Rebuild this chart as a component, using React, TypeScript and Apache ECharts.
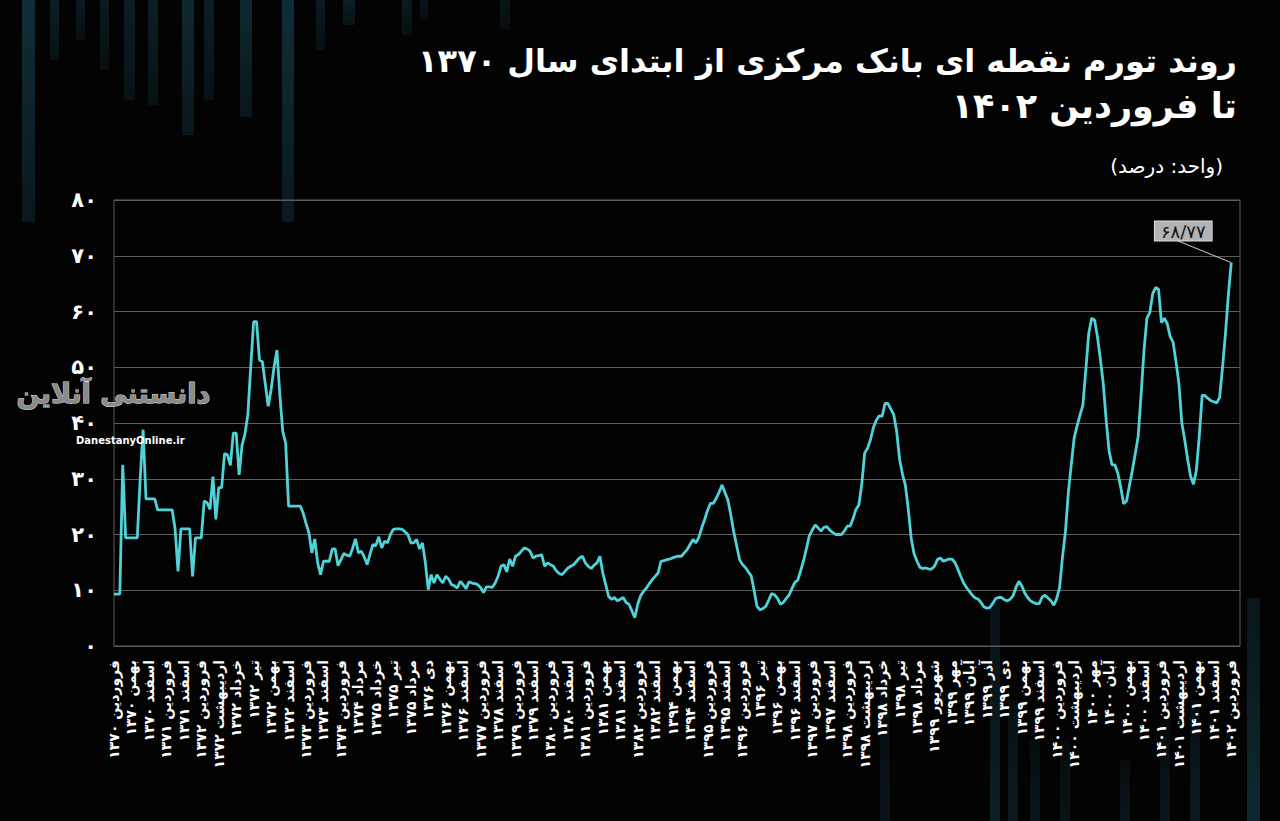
import React, { useEffect, useRef } from "react";
import * as echarts from "echarts";

// Point inflation (%) by month, one array per Persian year (Farvardin..Esfand)
const inflation1370 = [9.3, 9.3, 9.3, 32.5, 19.4, 19.4, 19.4, 19.4, 19.4, 30, 38.8, 26.4];
const inflation1371 = [26.4, 26.4, 26.4, 24.4, 24.4, 24.4, 24.4, 24.4, 24.4, 21, 13.4, 21];
const inflation1372 = [21, 21, 21, 12.5, 19.4, 19.4, 19.4, 26, 25.7, 24.5, 30.4, 22.7];
const inflation1373 = [28.4, 28.4, 34.5, 34.3, 32.4, 38.2, 38.2, 30.7, 36, 38, 41.5, 50.1];
const inflation1374 = [58.2, 58.2, 51.3, 51, 47, 43, 46, 50, 53.1, 45, 38.5, 36.4];
const inflation1375 = [25.1, 25.1, 25.1, 25.1, 25.1, 23.9, 22, 20.3, 16.7, 19.2, 14.9, 12.8];
const inflation1376 = [15.2, 15.2, 15.2, 17.4, 17.4, 14.4, 15.5, 16.6, 16.3, 16.1, 17.5, 19.2];
const inflation1377 = [16.7, 17, 16, 14.6, 16.5, 18.2, 18, 19.6, 17.6, 18.8, 18.5, 20];
const inflation1378 = [20.9, 21, 21, 20.9, 20.5, 20, 18.5, 18.5, 19.1, 17.4, 18.5, 15];
const inflation1379 = [10.1, 12.8, 11.3, 12.8, 12, 11.3, 12.5, 12, 11, 10.8, 10.4, 11.6];
const inflation1380 = [11, 10.3, 11.5, 11.3, 11.2, 11, 10.5, 9.6, 10.6, 10.6, 10.5, 11.3];
const inflation1381 = [12.5, 14.3, 14.6, 13.3, 15.6, 14.3, 16.1, 16.4, 17, 17.6, 17.4, 17];
const inflation1382 = [15.8, 16.1, 16.2, 16.4, 14.3, 14.9, 14.6, 14.3, 13.5, 13, 12.8, 13.4];
const inflation1383 = [14, 14.3, 14.6, 15.2, 15.8, 16.1, 14.9, 14.3, 13.9, 14.5, 14.9, 16.1];
const inflation1384 = [13.1, 11, 8.9, 8.4, 8.7, 8.1, 8.4, 8.7, 7.8, 7.5, 6.3, 5.1];
const inflation1385 = [7.5, 9, 9.8, 10.4, 11.2, 11.9, 12.5, 13.1, 15.2, 15.3, 15.5, 15.6];
const inflation1386 = [15.8, 16, 16.1, 16.1, 16.7, 17.3, 18.2, 19.1, 18.5, 19.5, 21.2, 22.7];
const inflation1387 = [24.3, 25.6, 25.6, 26.5, 27.6, 28.9, 27.5, 26.2, 23.5, 20.5, 18, 15.5];
const inflation1388 = [14.6, 14.1, 13.3, 12.6, 10, 7.1, 6.5, 6.7, 7.1, 8.2, 9.4, 9.2];
const inflation1389 = [8.6, 7.5, 7.8, 8.5, 9.1, 10.3, 11.4, 11.8, 13.5, 15.3, 17.5, 19.8];
const inflation1390 = [20.8, 21.7, 21.2, 20.6, 21.3, 21.4, 20.8, 20.4, 20, 20, 20, 20.6];
const inflation1391 = [21.5, 21.5, 22.8, 24.5, 25.3, 29, 34.6, 35.5, 37, 39.2, 40.5, 41.3];
const inflation1392 = [41.2, 43.5, 43.5, 42.5, 41.5, 38.5, 33.5, 30.8, 28.8, 24.5, 19.3, 16.5];
const inflation1393 = [15.2, 14.1, 13.9, 14, 13.8, 13.8, 14.3, 15.5, 15.8, 15.2, 15.4, 15.6];
const inflation1394 = [15.6, 15, 13.8, 12.5, 11.3, 10.5, 9.8, 9.1, 8.6, 8.4, 7.8, 7];
const inflation1395 = [6.8, 6.9, 7.6, 8.5, 8.7, 8.7, 8.3, 8.1, 8.4, 9, 10.5, 11.6];
const inflation1396 = [10.8, 9.5, 8.7, 8.1, 7.8, 7.6, 7.6, 8.8, 9.1, 8.6, 8.1, 7.3];
const inflation1397 = [8.5, 10.5, 16, 20.5, 27.5, 32.5, 37.3, 39.5, 41.4, 43.2, 49.5, 56];
const inflation1398 = [58.8, 58.5, 55.5, 51.5, 47.1, 40.5, 35, 32.5, 32.5, 31, 28.5, 25.5];
const inflation1399 = [26, 28.8, 31.5, 34.5, 37.6, 45, 53, 58.8, 59.8, 63.2, 64.3, 64];
const inflation1400 = [58, 58.8, 57.8, 55.5, 54.5, 51, 47.1, 40, 37, 33.5, 30.5, 29];
const inflation1401 = [31.5, 37.6, 45, 44.9, 44.4, 44, 43.8, 43.6, 44.6, 50, 56, 63];
const inflation1402 = [68.77];

const yearlyArrays = [
  inflation1370, inflation1371, inflation1372, inflation1373, inflation1374, inflation1375,
  inflation1376, inflation1377, inflation1378, inflation1379, inflation1380, inflation1381,
  inflation1382, inflation1383, inflation1384, inflation1385, inflation1386, inflation1387,
  inflation1388, inflation1389, inflation1390, inflation1391, inflation1392, inflation1393,
  inflation1394, inflation1395, inflation1396, inflation1397, inflation1398, inflation1399,
  inflation1400, inflation1401, inflation1402,
];
const values: number[] = yearlyArrays.flat();

// Tick labels shown every 6th month on the x axis (as printed in the source)
const tickLabels = [
  "فروردین ۱۳۷۰", "بهمن ۱۳۷۰", "اسفند ۱۳۷۰", "فروردین ۱۳۷۱", "اسفند ۱۳۷۱", "فروردین ۱۳۷۲",
  "اردیبهشت ۱۳۷۲", "خرداد ۱۳۷۲", "تیر ۱۳۷۲", "بهمن ۱۳۷۲", "اسفند ۱۳۷۲", "فروردین ۱۳۷۳",
  "اسفند ۱۳۷۳", "فروردین ۱۳۷۴", "مرداد ۱۳۷۴", "خرداد ۱۳۷۵", "تیر ۱۳۷۵", "مرداد ۱۳۷۵",
  "دی ۱۳۷۶", "بهمن ۱۳۷۶", "اسفند ۱۳۷۶", "فروردین ۱۳۷۷", "اسفند ۱۳۷۸", "فروردین ۱۳۷۹",
  "اسفند ۱۳۷۹", "فروردین ۱۳۸۰", "اسفند ۱۳۸۰", "فروردین ۱۳۸۱", "بهمن ۱۳۸۱", "اسفند ۱۳۸۱",
  "فروردین ۱۳۸۲", "اسفند ۱۳۸۲", "بهمن ۱۳۹۴", "اسفند ۱۳۹۴", "فروردین ۱۳۹۵", "اسفند ۱۳۹۵",
  "فروردین ۱۳۹۶", "تیر ۱۳۹۶", "بهمن ۱۳۹۶", "اسفند ۱۳۹۶", "فروردین ۱۳۹۷", "اسفند ۱۳۹۷",
  "فروردین ۱۳۹۸", "اردیبهشت ۱۳۹۸", "خرداد ۱۳۹۸", "تیر ۱۳۹۸", "مرداد ۱۳۹۸", "شهریور ۱۳۹۹",
  "مهر ۱۳۹۹", "آبان ۱۳۹۹", "آذر ۱۳۹۹", "دی ۱۳۹۹", "بهمن ۱۳۹۹", "اسفند ۱۳۹۹",
  "فروردین ۱۴۰۰", "اردیبهشت ۱۴۰۰", "مهر ۱۴۰۰", "آبان ۱۴۰۰", "بهمن ۱۴۰۰", "اسفند ۱۴۰۰",
  "فروردین ۱۴۰۱", "اردیبهشت ۱۴۰۱", "بهمن ۱۴۰۱", "اسفند ۱۴۰۱", "فروردین ۱۴۰۲",
];
const labelStep = 6;

const yTicks = [0, 10, 20, 30, 40, 50, 60, 70, 80];

const titleLine1 = "روند تورم نقطه ای بانک مرکزی از ابتدای سال ۱۳۷۰";
const titleLine2 = "تا فروردین ۱۴۰۲";
const unitText = "(واحد: درصد)";
const lastValueText = "۶۸/۷۷";
const logoText = "دانستنی آنلاین";
const logoUrl = "DanestanyOnline.ir";

const FONT = "DejaVu Sans";
const fa = (s: string | number) => String(s).replace(/\d/g, (d) => "۰۱۲۳۴۵۶۷۸۹"[Number(d)]);

// decorative faint background bars: [x, y, w, h, opacity]
const decoBars: number[][] = [
  [22, 0, 13, 222, 0.9], [50, 0, 9, 60, 0.6], [76, 0, 9, 40, 0.5], [100, 0, 9, 70, 0.5],
  [124, 0, 11, 100, 0.6], [148, 0, 10, 105, 0.6], [182, 0, 12, 135, 0.8], [204, 0, 10, 100, 0.6],
  [240, 0, 12, 117, 0.8], [282, 0, 12, 222, 0.9], [316, 0, 9, 50, 0.5], [343, 0, 12, 25, 0.6],
  [402, 0, 10, 35, 0.5], [420, 0, 8, 20, 0.4], [500, 0, 10, 30, 0.4],
  [990, 600, 10, 221, 0.6], [1008, 700, 10, 121, 0.5], [1030, 740, 10, 81, 0.4],
  [1120, 760, 10, 61, 0.4], [1160, 720, 10, 101, 0.4], [1190, 700, 10, 121, 0.5],
  [1247, 598, 13, 223, 0.8], [880, 660, 10, 161, 0.35], [1060, 740, 10, 81, 0.35],
];

export default function App() {
  const ref = useRef<HTMLDivElement>(null);

  useEffect(() => {
    document.body.style.margin = "0";
    document.body.style.background = "#030303";
    const chart = echarts.init(ref.current!, null, { renderer: "svg" });

    const seriesData: any[] = values.map((v, i) => [i, v]);
    const last = seriesData.length - 1;
    seriesData[last] = {
      value: seriesData[last],
      label: {
        show: true,
        position: "top",
        formatter: lastValueText,
        backgroundColor: "#b3b3b3",
        borderColor: "#dcdcdc",
        borderWidth: 1,
        color: "#111111",
        fontSize: 18,
        fontFamily: FONT,
        padding: [1, 6, 0, 6],
      },
    };

    const graphics: any[] = decoBars.map(([x, y, w, h, o]) => ({
      type: "rect",
      z: -10,
      silent: true,
      shape: { x, y, width: w, height: h },
      style: {
        fill: new echarts.graphic.LinearGradient(0, y === 0 ? 0 : 1, 0, y === 0 ? 1 : 0, [
          { offset: 0, color: "rgba(18,50,60," + o + ")" },
          { offset: 1, color: "rgba(18,50,60," + o * 0.5 + ")" },
        ]),
      },
    }));
    graphics.push(
      {
        type: "text",
        left: 16,
        top: 379,
        z: 5,
        style: {
          text: logoText,
          fill: "#8a8a8a",
          font: "bold 27px 'DejaVu Sans'",
          stroke: "#e0e0e0",
          lineWidth: 1,
        },
      },
      {
        type: "text",
        left: 76,
        top: 435,
        z: 5,
        style: {
          text: logoUrl,
          fill: "#ffffff",
          font: "bold 10px 'DejaVu Sans'",
        },
      }
    );

    chart.setOption({
      animation: false,
      backgroundColor: "#030303",
      title: [
        {
          text: titleLine1,
          right: 38,
          top: 40,
          textStyle: { color: "#ffffff", fontSize: 32, fontWeight: "bold", fontFamily: FONT },
        },
        {
          text: titleLine2,
          right: 38,
          top: 83,
          textStyle: { color: "#ffffff", fontSize: 35, fontWeight: "bold", fontFamily: FONT },
        },
        {
          text: unitText,
          right: 52,
          top: 151,
          textStyle: { color: "#ffffff", fontSize: 20, fontWeight: "normal", fontFamily: FONT },
        },
      ],
      grid: {
        left: 114,
        right: 40,
        top: 200,
        bottom: 175,
        show: true,
        borderColor: "#5c5c5c",
        borderWidth: 1,
        backgroundColor: "transparent",
      },
      xAxis: {
        type: "value",
        min: 0,
        max: values.length + 2,
        interval: labelStep,
        axisLine: { show: false },
        axisTick: { show: false },
        splitLine: { show: false },
        axisLabel: {
          rotate: 90,
          margin: 14,
          color: "#ffffff",
          fontSize: 14,
          fontWeight: "bold",
          fontFamily: FONT,
          showMaxLabel: false,
          formatter: (v: number) => {
            if (v % labelStep !== 0) return "";
            return tickLabels[v / labelStep] || "";
          },
        },
      },
      yAxis: {
        type: "value",
        min: yTicks[0],
        max: yTicks[yTicks.length - 1],
        interval: yTicks[1] - yTicks[0],
        axisLine: { show: false },
        axisTick: { show: false },
        splitLine: { show: true, lineStyle: { color: "#5c5c5c", width: 1 } },
        axisLabel: {
          color: "#ffffff",
          fontSize: 21,
          fontWeight: "bold",
          fontFamily: FONT,
          margin: 17,
          formatter: (v: number) => fa(v),
        },
      },
      series: [
        {
          type: "line",
          data: seriesData,
          showSymbol: true,
          symbol: "circle",
          symbolSize: 0,
          lineStyle: { color: "#4fd2d8", width: 2.8 },
          itemStyle: { color: "#4fd2d8" },
          label: { show: false },
          labelLayout: { dx: -48, dy: -17 },
          labelLine: { show: true, lineStyle: { color: "#cfcfcf", width: 1 } },
          z: 3,
        },
      ],
      graphic: graphics,
    });

    return () => chart.dispose();
  }, []);

  return (
    <div
      ref={ref}
      style={{ position: "absolute", left: 0, top: 0, width: 1280, height: 821 }}
    />
  );
}
